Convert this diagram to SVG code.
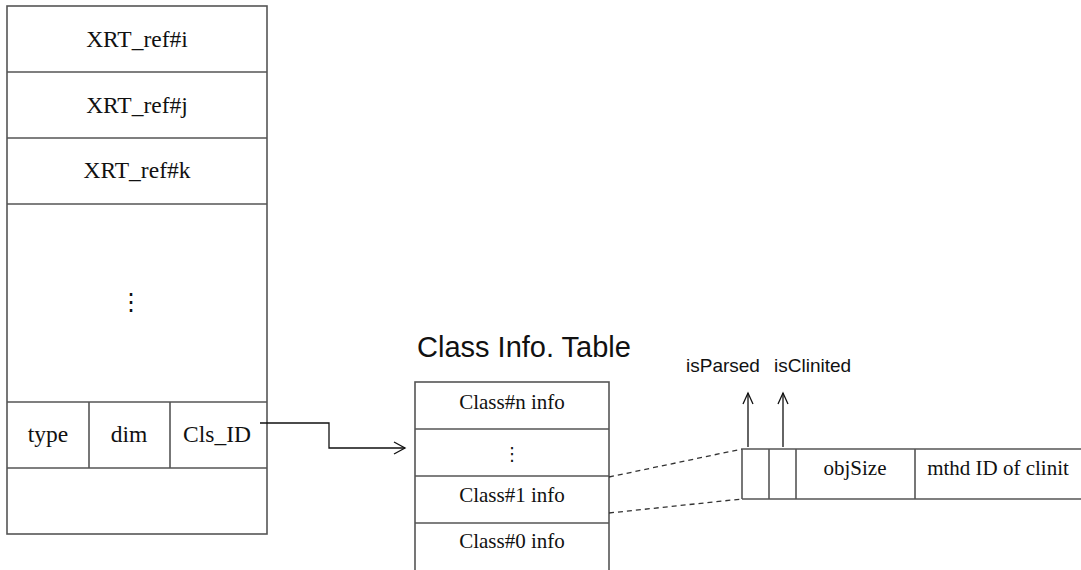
<svg xmlns="http://www.w3.org/2000/svg" width="1081" height="570" viewBox="0 0 1081 570">
<style>
.box{fill:#fff;stroke:#555;stroke-width:1.6}
.ln{stroke:#555;stroke-width:1.6;fill:none}
.t{font-family:"Liberation Serif",serif;font-size:21px;fill:#111;text-anchor:middle}
.tl{font-size:23.5px}
.s{font-family:"Liberation Sans",Arial,sans-serif;fill:#111}
.c{stroke:#111;stroke-width:1.3;fill:none}
.d{stroke:#333;stroke-width:1.3;fill:none;stroke-dasharray:5,4}
</style>
<rect width="1081" height="570" fill="#fff"/>
<g id="xrt-table">
<rect class="box" x="7" y="6" width="260" height="528"/>
<line class="ln" x1="7" y1="72" x2="267" y2="72"/>
<line class="ln" x1="7" y1="138" x2="267" y2="138"/>
<line class="ln" x1="7" y1="204" x2="267" y2="204"/>
<line class="ln" x1="7" y1="402" x2="267" y2="402"/>
<line class="ln" x1="7" y1="468" x2="267" y2="468"/>
<line class="ln" x1="89" y1="402" x2="89" y2="468"/>
<line class="ln" x1="170" y1="402" x2="170" y2="468"/>
<text class="t tl" x="137" y="47">XRT_ref#i</text>
<text class="t tl" x="137" y="113">XRT_ref#j</text>
<text class="t tl" x="137" y="178">XRT_ref#k</text>
<text x="131" y="310" style="font-family:'DejaVu Sans',sans-serif;font-size:24px;text-anchor:middle;fill:#111">⋮</text>
<text class="t tl" x="48" y="442">type</text>
<text class="t tl" x="129" y="442">dim</text>
<text class="t tl" x="217" y="442">Cls_ID</text>
</g>
<g id="class-info-table">
<text class="s" x="417" y="357" style="font-size:29px">Class Info. Table</text>
<rect class="box" x="415" y="382" width="194" height="190"/>
<line class="ln" x1="415" y1="429" x2="609" y2="429"/>
<line class="ln" x1="415" y1="476" x2="609" y2="476"/>
<line class="ln" x1="415" y1="523" x2="609" y2="523"/>
<text class="t" x="512" y="409">Class#n info</text>
<text x="512" y="460" style="font-family:'DejaVu Sans',sans-serif;font-size:18px;text-anchor:middle;fill:#111">⋮</text>
<text class="t" x="512" y="502">Class#1 info</text>
<text class="t" x="512" y="548">Class#0 info</text>
</g>
<g id="class-record">
<line class="ln" x1="742" y1="449" x2="1081" y2="449"/>
<line class="ln" x1="742" y1="499" x2="1081" y2="499"/>
<line class="ln" x1="742" y1="449" x2="742" y2="499"/>
<line class="ln" x1="769" y1="449" x2="769" y2="499"/>
<line class="ln" x1="796" y1="449" x2="796" y2="499"/>
<line class="ln" x1="915" y1="449" x2="915" y2="499"/>
<text class="t" x="855" y="475">objSize</text>
<text class="t" x="998" y="475">mthd ID of clinit</text>
</g>
<g id="flag-labels">
<text class="s" x="686" y="372" style="font-size:19px">isParsed</text>
<text class="s" x="774" y="372" style="font-size:19px">isClinited</text>
</g>
<g id="connectors">
<polyline class="c" points="260,423 329,423 329,448 405,448"/>
<polyline class="c" points="394,442 405,448 394,454"/>
<line class="c" x1="748" y1="447" x2="748" y2="393"/>
<polyline class="c" points="743,404 748,393 753,404"/>
<line class="c" x1="783" y1="447" x2="783" y2="393"/>
<polyline class="c" points="778,404 783,393 788,404"/>
<line class="d" x1="609" y1="477" x2="742" y2="449"/>
<line class="d" x1="609" y1="513" x2="742" y2="499"/>
</g>
</svg>
